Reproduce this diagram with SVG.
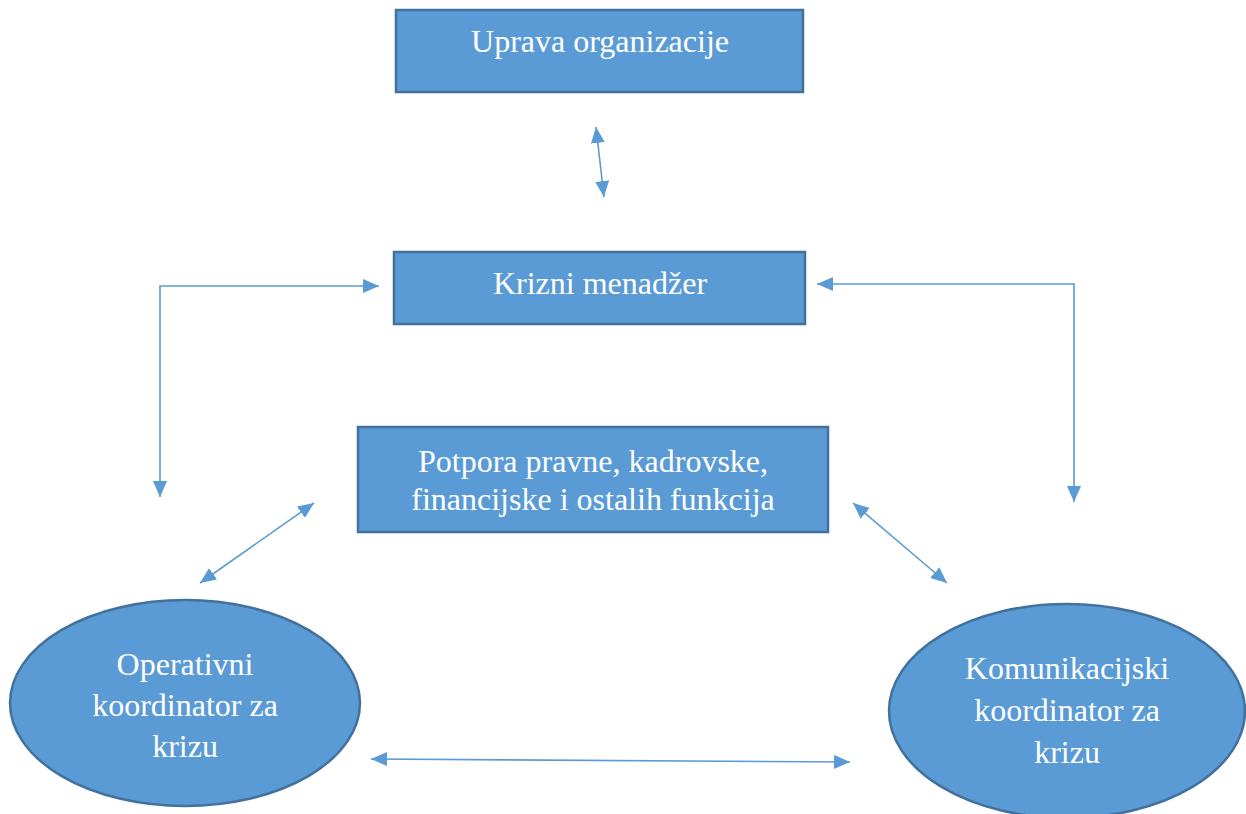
<svg xmlns="http://www.w3.org/2000/svg" width="1246" height="814" viewBox="0 0 1246 814">
<style>
.box{fill:#5B9BD5;stroke:#41719C;stroke-width:2.5}
.t{font-family:"Liberation Serif","Times New Roman",serif;font-size:32px;fill:#ffffff;text-anchor:middle}
.c{fill:none;stroke:#5B9BD5;stroke-width:1.6;marker-start:url(#ah);marker-end:url(#ah)}
</style>
<defs>
<marker id="ah" viewBox="0 0 16 14" refX="16" refY="7" markerWidth="16" markerHeight="14" markerUnits="userSpaceOnUse" orient="auto-start-reverse">
<path d="M0,0 L16,7 L0,14 z" fill="#5B9BD5"/>
</marker>
</defs>
<rect width="1246" height="814" fill="#ffffff"/>
<g id="uprava">
<rect class="box" x="396" y="10" width="407" height="82"/>
<text class="t" x="600" y="52">Uprava organizacije</text>
</g>
<g id="krizni">
<rect class="box" x="394" y="252" width="411" height="72"/>
<text class="t" x="600" y="294">Krizni menadžer</text>
</g>
<g id="potpora">
<rect class="box" x="358" y="427" width="470" height="105"/>
<text class="t" x="593" y="472">Potpora pravne, kadrovske,</text>
<text class="t" x="593" y="510">financijske i ostalih funkcija</text>
</g>
<g id="operativni">
<ellipse class="box" cx="185" cy="703" rx="175" ry="103"/>
<text class="t" x="185" y="675">Operativni</text>
<text class="t" x="185" y="716">koordinator za</text>
<text class="t" x="185" y="757">krizu</text>
</g>
<g id="komunikacijski">
<ellipse class="box" cx="1067" cy="711" rx="178" ry="107"/>
<text class="t" x="1067" y="679">Komunikacijski</text>
<text class="t" x="1067" y="721">koordinator za</text>
<text class="t" x="1067" y="763">krizu</text>
</g>
<g id="connectors">
<path class="c" d="M596,127 L604,197"/>
<path class="c" d="M160,497 L160,286 L379,286"/>
<path class="c" d="M817,284 L1074,284 L1074,502"/>
<path class="c" d="M314,503 L200,583"/>
<path class="c" d="M853,503 L947,583"/>
<path class="c" d="M371,759 L850,762"/>
</g>
</svg>
